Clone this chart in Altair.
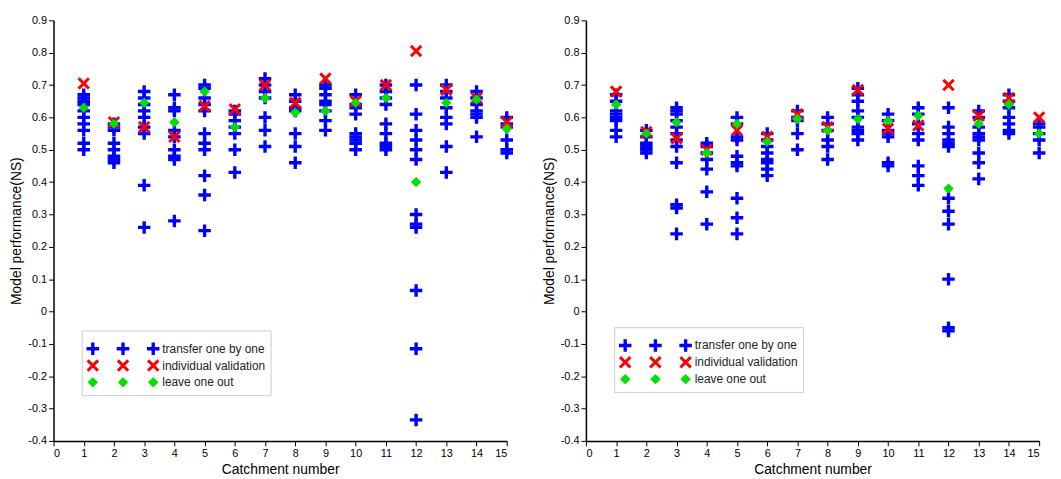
import altair as alt
import pandas as pd

catchments = list(range(1, 16))

# panel a: transfer one by one (several values per catchment)
left_transfer = [
    [0.67, 0.66, 0.65, 0.64, 0.62, 0.60, 0.58, 0.56, 0.52, 0.50],
    [0.58, 0.57, 0.56, 0.52, 0.50, 0.48, 0.47, 0.46],
    [0.68, 0.66, 0.64, 0.62, 0.60, 0.57, 0.55, 0.39, 0.26],
    [0.67, 0.63, 0.62, 0.56, 0.54, 0.50, 0.48, 0.47, 0.28],
    [0.70, 0.69, 0.66, 0.64, 0.62, 0.55, 0.52, 0.50, 0.42, 0.36, 0.25],
    [0.62, 0.61, 0.59, 0.57, 0.55, 0.50, 0.43],
    [0.72, 0.70, 0.68, 0.66, 0.60, 0.56, 0.51],
    [0.67, 0.65, 0.63, 0.62, 0.55, 0.51, 0.46],
    [0.70, 0.69, 0.67, 0.65, 0.64, 0.62, 0.59, 0.56],
    [0.67, 0.64, 0.63, 0.61, 0.55, 0.54, 0.53, 0.52, 0.50],
    [0.70, 0.68, 0.66, 0.64, 0.58, 0.55, 0.52, 0.51, 0.50],
    [0.70, 0.61, 0.56, 0.53, 0.50, 0.47, 0.30, 0.27, 0.26, 0.065, -0.115, -0.335],
    [0.70, 0.68, 0.66, 0.63, 0.60, 0.58, 0.51, 0.43],
    [0.68, 0.66, 0.64, 0.62, 0.61, 0.60, 0.54],
    [0.60, 0.58, 0.57, 0.53, 0.50, 0.49],
]
left_individual = [0.705, 0.585, 0.57, 0.54, 0.635, 0.625, 0.70, 0.645, 0.72, 0.65, 0.70, 0.805, 0.685, 0.66, 0.585]
left_leave = [0.63, 0.58, 0.645, 0.585, 0.68, 0.57, 0.66, 0.615, 0.62, 0.645, 0.66, 0.40, 0.645, 0.655, 0.565]

# panel b
right_transfer = [
    [0.67, 0.65, 0.62, 0.61, 0.60, 0.59, 0.56, 0.54],
    [0.56, 0.54, 0.52, 0.51, 0.50, 0.49],
    [0.63, 0.62, 0.61, 0.59, 0.57, 0.55, 0.53, 0.51, 0.46, 0.33, 0.32, 0.24],
    [0.52, 0.51, 0.49, 0.47, 0.44, 0.37, 0.27],
    [0.60, 0.58, 0.54, 0.53, 0.48, 0.46, 0.45, 0.35, 0.29, 0.24],
    [0.55, 0.53, 0.51, 0.49, 0.47, 0.46, 0.44, 0.42],
    [0.62, 0.60, 0.59, 0.55, 0.50],
    [0.60, 0.58, 0.56, 0.53, 0.51, 0.47],
    [0.69, 0.67, 0.65, 0.62, 0.60, 0.57, 0.56, 0.55, 0.53],
    [0.61, 0.59, 0.56, 0.55, 0.54, 0.46, 0.45],
    [0.63, 0.61, 0.58, 0.55, 0.53, 0.45, 0.42, 0.39],
    [0.63, 0.57, 0.55, 0.53, 0.52, 0.51, 0.35, 0.31, 0.27, 0.10, -0.05, -0.06],
    [0.62, 0.60, 0.57, 0.55, 0.54, 0.53, 0.49, 0.46, 0.41],
    [0.67, 0.65, 0.63, 0.60, 0.58, 0.56, 0.55],
    [0.58, 0.57, 0.55, 0.53, 0.49],
]
right_individual = [0.68, 0.555, 0.535, 0.50, 0.56, 0.54, 0.61, 0.57, 0.685, 0.565, 0.575, 0.70, 0.605, 0.66, 0.60]
right_leave = [0.64, 0.55, 0.585, 0.49, 0.58, 0.525, 0.595, 0.56, 0.595, 0.59, 0.605, 0.38, 0.58, 0.64, 0.55]

legend_labels = ["transfer one by one", "individual validation", "leave one out"]
legend_symbol_x = [1.3, 2.3, 3.3]
y_ticks = [-0.4, -0.3, -0.2, -0.1, 0, 0.1, 0.2, 0.3, 0.4, 0.5, 0.6, 0.7, 0.8, 0.9]

PLUS = "M-1,0L1,0M0,-1L0,1"
CROSS = "M-1,-1L1,1M-1,1L1,-1"
FONT = "Liberation Sans"

x_scale = alt.Scale(domain=[0, 15], nice=False)
y_scale = alt.Scale(domain=[-0.4, 0.9], nice=False)
x_axis = alt.Axis(values=list(range(16)), title="Catchment number", grid=False, labelOverlap=False)
y_axis = alt.Axis(values=y_ticks, labelExpr="replace(format(datum.value, '.1~f'), '\u2212', '-')",
                  title="Model performance(NS)", grid=False, labelOverlap=False)


def panel(transfer, individual, leave, legend_top):
    t = pd.DataFrame([(c, v) for c, vals in zip(catchments, transfer) for v in vals], columns=["c", "v"])
    iv = pd.DataFrame({"c": catchments, "v": individual})
    lo = pd.DataFrame({"c": catchments, "v": leave})
    row_y = [legend_top - 0.055 - 0.052 * i for i in range(3)]

    x = alt.X("c:Q", scale=x_scale, axis=x_axis)
    y = alt.Y("v:Q", scale=y_scale, axis=y_axis)

    def plus(d):
        return alt.Chart(d).mark_point(shape=PLUS, color="#0000ff", strokeWidth=3.4, size=160, opacity=1).encode(x, y)

    def cross(d):
        return alt.Chart(d).mark_point(shape=CROSS, color="#ff0000", strokeWidth=3, size=110, opacity=1).encode(x, y)

    def diamond(d):
        return alt.Chart(d).mark_point(shape="diamond", filled=True, color="#00e000", size=110, opacity=1).encode(x, y)

    box = alt.Chart(pd.DataFrame({"c": [0.95], "c2": [7.2], "v": [legend_top], "v2": [legend_top - 0.2]})).mark_rect(
        fill="white", stroke="#cccccc").encode(x, y, x2="c2:Q", y2="v2:Q")
    sym = pd.DataFrame([(sx, row_y[i], i) for i in range(3) for sx in legend_symbol_x], columns=["c", "v", "k"])
    txt = alt.Chart(pd.DataFrame({"c": [3.6] * 3, "v": row_y, "t": legend_labels})).mark_text(
        align="left", baseline="middle", fontSize=12, font=FONT, color="#222222").encode(x, y, text="t:N")

    return alt.layer(
        plus(t), cross(iv), diamond(lo), box,
        plus(sym[sym.k == 0]), cross(sym[sym.k == 1]), diamond(sym[sym.k == 2]), txt,
    ).properties(width=458, height=425)


chart = alt.hconcat(
    panel(left_transfer, left_individual, left_leave, -0.06),
    panel(right_transfer, right_individual, right_leave, -0.05),
    spacing=22,
).configure_view(strokeWidth=0).configure_axis(
    labelFont=FONT, titleFont=FONT, labelFontSize=11, titleFontSize=14, titleFontWeight="normal",
    labelColor="black", titleColor="black", domainColor="black", tickColor="black", domainWidth=1.5,
    labelOverlap=False,
).properties(padding={"left": 2, "top": 4, "right": 0, "bottom": 0})

chart.save("out.html", embed_options={"renderer": "svg", "actions": False})
